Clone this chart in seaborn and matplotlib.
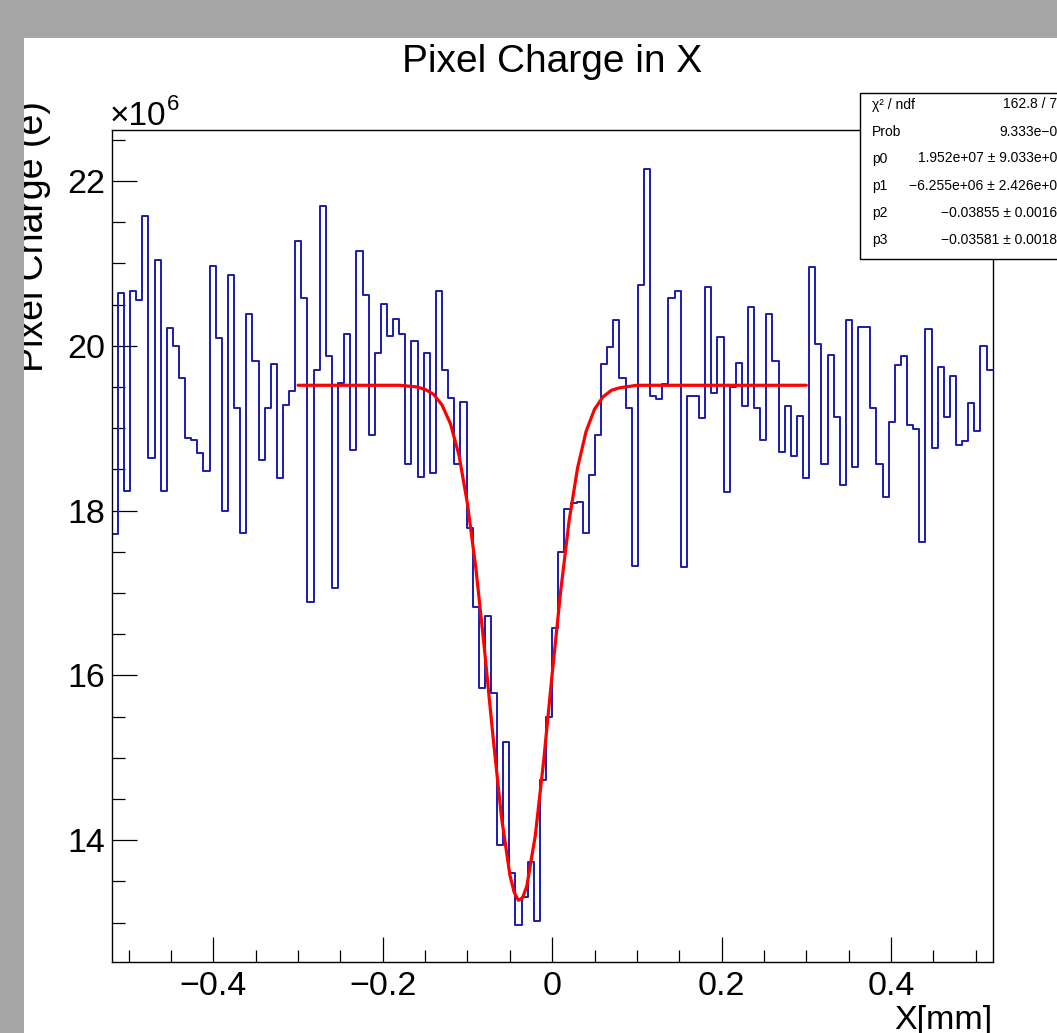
import numpy as np
import pandas as pd
import matplotlib
matplotlib.use("Agg")
import matplotlib.pyplot as plt
from matplotlib.patches import Rectangle
from matplotlib.ticker import MultipleLocator, FixedLocator, FixedFormatter
import seaborn as sns

# ---------------- data (charge in units of 1e6 e) ----------------
charge_1e6 = [
    17.71, 20.64, 18.24, 20.66, 20.55, 21.57, 18.64, 21.04, 18.24, 20.22,
    20.00, 19.61, 18.88, 18.86, 18.70, 18.48, 20.97, 20.09, 17.99, 20.86,
    19.24, 17.73, 20.39, 19.81, 18.61, 19.24, 19.78, 18.39, 19.28, 19.45,
    21.27, 20.58, 16.89, 19.70, 21.69, 19.87, 17.06, 19.55, 20.14, 18.74,
    21.15, 20.62, 18.92, 19.91, 20.51, 20.12, 20.32, 20.14, 18.56, 20.06,
    18.41, 19.91, 18.46, 20.66, 19.71, 19.36, 18.57, 19.32, 17.79, 16.83,
    15.85, 16.72, 15.78, 13.94, 15.19, 13.60, 12.97, 13.31, 13.73, 13.02,
    14.73, 15.49, 16.57, 17.50, 18.02, 18.09, 18.10, 17.73, 18.43, 18.92,
    19.78, 19.98, 20.31, 19.61, 19.24, 17.33, 20.74, 22.14, 19.39, 19.35,
    19.53, 20.58, 20.67, 17.32, 19.39, 19.39, 19.12, 20.71, 19.43, 20.10,
    18.23, 19.50, 19.79, 19.27, 20.47, 19.25, 18.86, 20.39, 19.82, 18.71,
    19.27, 18.66, 19.15, 18.39, 20.95, 20.02, 18.56, 19.89, 19.13, 18.31,
    20.31, 18.53, 20.23, 20.23, 19.24, 18.57, 18.17, 19.08, 19.76, 19.87,
    19.04, 18.99, 17.62, 20.20, 18.76, 19.74, 19.13, 19.63, 18.80, 18.84,
    19.30, 18.97, 20.00, 19.71,
]
x_min, x_max, n_bins = -0.52, 0.52, 144

# fitted curve (x in mm, charge in 1e6 e)
fit_x = [-0.30, -0.25, -0.20, -0.18, -0.16, -0.15, -0.14, -0.13, -0.12, -0.11,
         -0.10, -0.09, -0.08, -0.07, -0.06, -0.05, -0.045, -0.04, -0.035, -0.03,
         -0.02, -0.01, 0.00, 0.01, 0.02, 0.03, 0.04, 0.05, 0.06, 0.07,
         0.08, 0.10, 0.15, 0.20, 0.30]
fit_y = [19.52, 19.52, 19.52, 19.52, 19.50, 19.47, 19.41, 19.28, 19.05, 18.67,
         18.08, 17.29, 16.32, 15.27, 14.29, 13.58, 13.37, 13.27, 13.30, 13.44,
         14.05, 14.97, 16.02, 17.02, 17.88, 18.52, 18.96, 19.23, 19.38, 19.46,
         19.49, 19.52, 19.52, 19.52, 19.52]

x_tick_values = [-0.4, -0.2, 0.0, 0.2, 0.4]
x_tick_labels = ["\u22120.4", "\u22120.2", "0", "0.2", "0.4"]
y_tick_values = [14, 16, 18, 20, 22]
y_tick_labels = ["14", "16", "18", "20", "22"]

stat_names = ["\u03c7\u00b2 / ndf", "Prob", "p0", "p1", "p2", "p3"]
stat_values = ["162.8 / 79", "9.333e\u221208", "1.952e+07 \u00b1 9.033e+04",
               "\u22126.255e+06 \u00b1 2.426e+05", "\u22120.03855 \u00b1 0.00163",
               "\u22120.03581 \u00b1 0.00184"]

title_text = "Pixel Charge in X"
x_label = "X[mm]"
y_label = "Pixel Charge (e)"

# ---------------- layout ----------------
W_PX, H_PX, DPI = 1057, 1033, 100
sns.set_style("white")
plt.rcParams["font.family"] = ["Liberation Sans", "DejaVu Sans"]
plt.rcParams["axes.unicode_minus"] = True
plt.rcParams["text.color"] = "black"
plt.rcParams["xtick.color"] = "black"
plt.rcParams["ytick.color"] = "black"
plt.rcParams["axes.labelcolor"] = "black"

fig = plt.figure(figsize=(W_PX / DPI, H_PX / DPI), dpi=DPI)
fig.patch.set_facecolor("white")


def fx(px):
    return px / W_PX


def fy(py):
    return (H_PX - py) / H_PX


AX_L, AX_R, AX_T, AX_B = 111.7, 992.7, 130.0, 962.3
ax = fig.add_axes([fx(AX_L), fy(AX_B), fx(AX_R) - fx(AX_L), fy(AX_T) - fy(AX_B)])
ax.set_facecolor("white")

bin_width = (x_max - x_min) / n_bins
centers = x_min + bin_width * (np.arange(n_bins) + 0.5)
df = pd.DataFrame({"x": centers, "charge": charge_1e6})

sns.histplot(data=df, x="x", weights="charge", bins=n_bins,
             binrange=(x_min, x_max), element="step",
             fill=False, color="#1c1cb0", linewidth=1.4, ax=ax)
sns.lineplot(x=fit_x, y=fit_y, color="#ff0000", linewidth=2.3, sort=False,
             estimator=None, ax=ax)

ax.set_xlim(x_min, x_max)
ax.set_ylim(12.517, 22.618)
ax.set_xlabel("")
ax.set_ylabel("")

ax.xaxis.set_major_locator(FixedLocator(x_tick_values))
ax.xaxis.set_major_formatter(FixedFormatter(x_tick_labels))
ax.yaxis.set_major_locator(FixedLocator(y_tick_values))
ax.yaxis.set_major_formatter(FixedFormatter(y_tick_labels))
ax.xaxis.set_minor_locator(MultipleLocator(0.05))
ax.yaxis.set_minor_locator(MultipleLocator(0.5))
ax.tick_params(axis="both", which="major", direction="in", length=18, width=0.9,
               color="black", labelsize=24.5, labelcolor="black",
               bottom=True, left=True, top=False, right=False)
ax.tick_params(axis="both", which="minor", direction="in", length=9, width=0.9,
               color="black", bottom=True, left=True, top=False, right=False)
ax.tick_params(axis="x", which="major", pad=6)
ax.tick_params(axis="y", which="major", pad=5)
for s in ax.spines.values():
    s.set_visible(True)
    s.set_color("black")
    s.set_linewidth(1.0)

# ---------------- texts ----------------
fig.text(fx(552.2), fy(71.7), title_text, ha="center", va="baseline",
         fontsize=28, color="black")
fig.text(fx(43.3), fy(236), y_label, rotation=90, rotation_mode="anchor",
         ha="center", va="baseline", fontsize=27, color="black")
fig.text(fx(110), fy(125), "\u00d710", ha="left", va="baseline", fontsize=24,
         color="black")
fig.text(fx(167), fy(110), "6", ha="left", va="baseline", fontsize=16,
         color="black")
fig.text(fx(992.7), fy(1029.5), x_label, ha="right", va="baseline",
         fontsize=24.5, color="black")

# statistics box
box = Rectangle((fx(860), fy(259)), 0.3, fy(92.5) - fy(259),
                transform=fig.transFigure, facecolor="white", edgecolor="black",
                linewidth=1.0, zorder=5)
fig.add_artist(box)
row_y = [104, 131.3, 158, 185.3, 212.3, 239.7]
for name, val, yy in zip(stat_names, stat_values, row_y):
    fig.text(fx(871.7), fy(yy + 4.5), name, ha="left", va="baseline",
             fontsize=10, zorder=6, color="black")
    fig.text(fx(1065), fy(yy + 4.5), val, ha="right", va="baseline",
             fontsize=10, zorder=6, color="black")

# grey window border (left and top)
fig.add_artist(Rectangle((0, 0), fx(24), 1, transform=fig.transFigure,
                         facecolor="#a5a5a5", edgecolor="none", zorder=20))
fig.add_artist(Rectangle((0, fy(37.5)), 1, 1 - fy(37.5), transform=fig.transFigure,
                         facecolor="#a5a5a5", edgecolor="none", zorder=20))

fig.savefig("out.png", dpi=DPI)
